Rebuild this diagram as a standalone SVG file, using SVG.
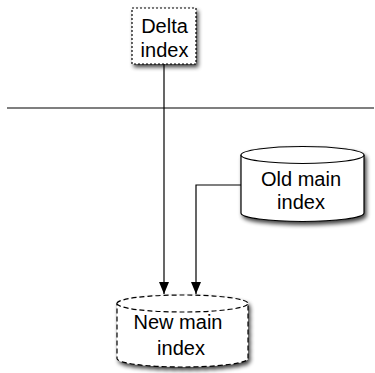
<svg xmlns="http://www.w3.org/2000/svg" width="375" height="373" viewBox="0 0 375 373">
  <defs>
    <filter id="shadow" x="-20%" y="-20%" width="150%" height="150%">
      <feGaussianBlur in="SourceAlpha" stdDeviation="2"/>
      <feOffset dx="2" dy="3" result="b"/>
      <feComponentTransfer><feFuncA type="linear" slope="0.75"/></feComponentTransfer>
      <feMerge><feMergeNode/><feMergeNode in="SourceGraphic"/></feMerge>
    </filter>
    <marker id="arrow" viewBox="0 0 12 10" refX="12" refY="5" markerWidth="12" markerHeight="10" markerUnits="userSpaceOnUse" orient="auto">
      <path d="M0,0 L12,5 L0,10 Z" fill="#000"/>
    </marker>
  </defs>
  <style>
    text { font-family: "Liberation Sans", Arial, sans-serif; font-size: 20px; fill: #000; text-anchor: middle; }
    .node { fill: #fff; stroke: #000; stroke-width: 1.2; }
    .dot { stroke-dasharray: 2 2; }
    .dash { stroke-dasharray: 5 3; }
    .conn { fill: none; stroke: #000; stroke-width: 1.2; }
  </style>

  <rect width="375" height="373" fill="#fff"/>

  <!-- divider -->
  <line x1="7" y1="108" x2="374" y2="108" stroke="#000" stroke-width="1.2"/>

  <g id="connectors">
    <path class="conn" d="M164,64 V294" marker-end="url(#arrow)"/>
    <path class="conn" d="M241,185 H196 V294" marker-end="url(#arrow)"/>
  </g>

  <g id="delta-index">
    <rect class="node dot" x="132" y="8" width="64" height="56" filter="url(#shadow)"/>
    <text x="164.5" y="33">Delta</text>
    <text x="164.5" y="57">index</text>
  </g>

  <g id="old-main-index">
    <path class="node" d="M241,155 A61.5,8.5 0 0 1 364,155 V213 A61.5,8.5 0 0 1 241,213 Z" filter="url(#shadow)"/>
    <path class="node" d="M241,155 A61.5,8.5 0 0 0 364,155" fill="none"/>
    <text x="301" y="186">Old main</text>
    <text x="301" y="209">index</text>
  </g>

  <g id="new-main-index">
    <path class="node dash" d="M117,303.5 A65.5,8.5 0 0 1 248,303.5 V358.5 A65.5,8.5 0 0 1 117,358.5 Z" filter="url(#shadow)"/>
    <path class="node dash" d="M117,303.5 A65.5,8.5 0 0 0 248,303.5" fill="none"/>
    <text x="178" y="329">New main</text>
    <text x="181" y="355">index</text>
  </g>
</svg>
